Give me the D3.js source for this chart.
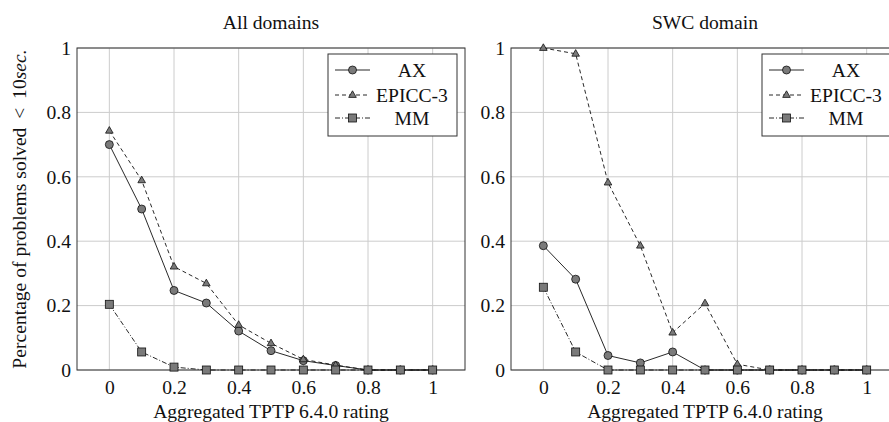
<!DOCTYPE html>
<html lang="en">
<head>
	<meta charset="UTF-8">
	<title>TPTP rating</title>
	<script src="https://cdn.jsdelivr.net/npm/d3@7"></script>
	<style>
		html,body{margin:0;padding:0;background:#fff;}
		svg{display:block;}
		text{font-family:"Liberation Serif","Times New Roman",serif;fill:#111;}
	</style>
</head>
<body>
	<svg id="svg" width="889" height="422"></svg>
	<script>
		// ratings on the x axis
		var ratings = [0,0.1,0.2,0.3,0.4,0.5,0.6,0.7,0.8,0.9,1];
		var seriesNames = ["AX","EPICC-3","MM"];

		// All domains
		var allAX    = [0.70,0.50,0.247,0.208,0.121,0.060,0.029,0.014,0,0,0];
		var allEPICC = [0.743,0.589,0.321,0.269,0.140,0.083,0.033,0.015,0,0,0];
		var allMM    = [0.204,0.056,0.009,0,0,0,0,0,0,0,0];

		// SWC domain
		var swcAX    = [0.386,0.282,0.045,0.022,0.056,0,0,0,0,0,0];
		var swcEPICC = [1.0,0.982,0.582,0.386,0.116,0.207,0.018,0,0,0,0];
		var swcMM    = [0.257,0.056,0,0,0,0,0,0,0,0,0];

		var xTicks = [0,0.2,0.4,0.6,0.8,1];
		var yTicks = [0,0.2,0.4,0.6,0.8,1];

		var svg = d3.select("#svg");
		var plotTop = 48, plotBottom = 370;
		var fs = "19.6px";

		var styles = {
			"AX":{dash:null, marker:"circle"},
			"EPICC-3":{dash:"4,3", marker:"triangle"},
			"MM":{dash:"5,2,1,2", marker:"square"}
		};

		function drawMarker(g, type, x, y){
			var m;
			if(type=="circle"){
				m = g.append("circle").attr("cx",x).attr("cy",y).attr("r",4);
			}else if(type=="square"){
				m = g.append("rect").attr("x",x-4).attr("y",y-4).attr("width",8).attr("height",8);
			}else{
				m = g.append("path").attr("d","M"+x+","+(y-4.2)+"L"+(x+3.8)+","+(y+2.4)+"L"+(x-3.8)+","+(y+2.4)+"Z");
			}
			m.attr("fill","#7a7a7a").attr("stroke","#111").attr("stroke-width",0.8);
		}

		function panel(left, right, title, series, showYLabel){
			var g = svg.append("g");
			var xscale = d3.scaleLinear().domain([-0.1,1.1]).range([left,right]);
			var yscale = d3.scaleLinear().domain([0,1]).range([plotBottom,plotTop]);

			// grid
			g.selectAll(".gx").data(xTicks).enter().append("line")
				.attr("x1",d=>xscale(d)).attr("x2",d=>xscale(d))
				.attr("y1",plotTop).attr("y2",plotBottom)
				.attr("stroke","#cccccc").attr("stroke-width",1);
			g.selectAll(".gy").data(yTicks).enter().append("line")
				.attr("x1",left).attr("x2",right)
				.attr("y1",d=>yscale(d)).attr("y2",d=>yscale(d))
				.attr("stroke","#cccccc").attr("stroke-width",1);

			// axes, no tick marks (grid does that)
			var xa = g.append("g").attr("transform","translate(0,"+plotBottom+")")
				.call(d3.axisBottom(xscale).tickValues(xTicks).tickSize(0).tickPadding(10).tickFormat(d3.format("")));
			var ya = g.append("g").attr("transform","translate("+left+",0)")
				.call(d3.axisLeft(yscale).tickValues(yTicks).tickSize(0).tickPadding(6).tickFormat(d3.format("")));
			[xa,ya].forEach(a=>{
				a.select(".domain").remove();
				a.selectAll("text").style("font-family","Liberation Serif, serif").style("font-size",fs).attr("fill","#111");
			});

			g.append("rect").attr("x",left).attr("y",plotTop)
				.attr("width",right-left).attr("height",plotBottom-plotTop)
				.attr("fill","none").attr("stroke","#333").attr("stroke-width",1);

			// lines
			var line = d3.line().x((d,i)=>xscale(ratings[i])).y(d=>yscale(d));
			series.forEach(s=>{
				g.append("path").datum(s.values)
					.attr("d",line).attr("fill","none")
					.attr("stroke","#111").attr("stroke-width",0.9)
					.attr("stroke-dasharray",styles[s.name].dash);
			});
			series.forEach(s=>{
				s.values.forEach((v,i)=>drawMarker(g,styles[s.name].marker,xscale(ratings[i]),yscale(v)));
			});

			// legend
			var lx = right-8-129, ly = 54;
			var lg = g.append("g");
			lg.append("rect").attr("x",lx).attr("y",ly).attr("width",129).attr("height",82)
				.attr("fill","#fff").attr("stroke","#333").attr("stroke-width",1);
			var rows = [16,41,64];
			seriesNames.forEach((n,i)=>{
				var yy = ly+rows[i];
				lg.append("line").attr("x1",lx+7).attr("x2",lx+42).attr("y1",yy).attr("y2",yy)
					.attr("stroke","#111").attr("stroke-width",0.9)
					.attr("stroke-dasharray",styles[n].dash);
				drawMarker(lg,styles[n].marker,lx+24.5,yy);
				lg.append("text").attr("x",lx+84).attr("y",yy+6.5)
					.attr("text-anchor","middle").style("font-size",fs).text(n);
			});

			// titles
			g.append("text").attr("x",xscale(0.5)).attr("y",29)
				.attr("text-anchor","middle").style("font-size",fs).text(title);
			g.append("text").attr("x",xscale(0.5)).attr("y",418)
				.attr("text-anchor","middle").style("font-size",fs).text("Aggregated TPTP 6.4.0 rating");

			if(showYLabel){
				var t = g.append("text").attr("transform","translate(26,"+((plotTop+plotBottom)/2)+") rotate(-90)")
					.attr("text-anchor","middle").style("font-size",fs);
				t.append("tspan").text("Percentage of problems solved \u2009<\u2009 10");
				t.append("tspan").style("font-style","italic").text("sec.");
			}
		}

		panel(77,465,"All domains",[
			{name:"AX",values:allAX},
			{name:"EPICC-3",values:allEPICC},
			{name:"MM",values:allMM}
		],true);
		panel(511,899,"SWC domain",[
			{name:"AX",values:swcAX},
			{name:"EPICC-3",values:swcEPICC},
			{name:"MM",values:swcMM}
		],false);
	</script>
</body>
</html>
